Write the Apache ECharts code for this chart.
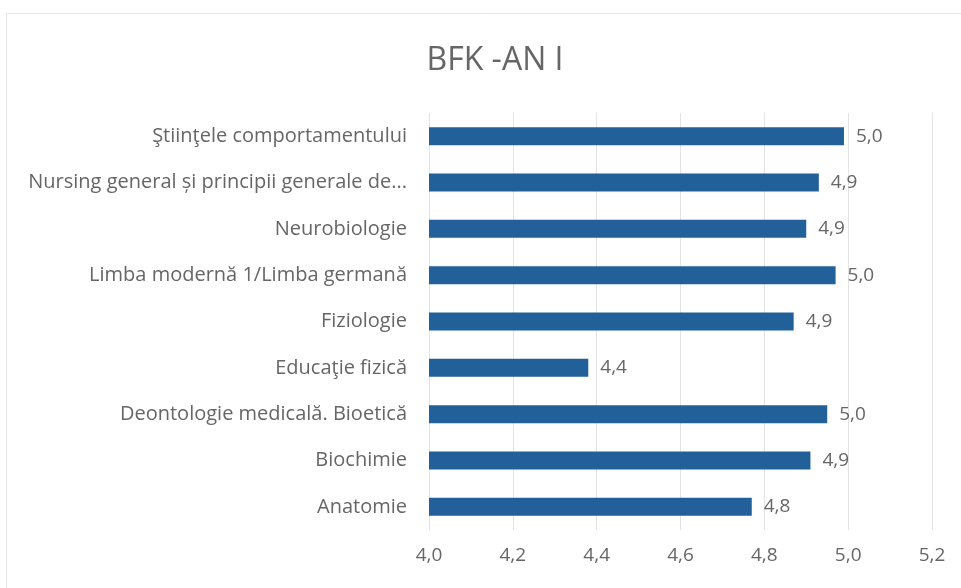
<!DOCTYPE html>
<html>
<head>
<meta charset="utf-8">
<script type="text/javascript" src="https://cdn.jsdelivr.net/npm/echarts@6/dist/echarts.min.js"></script>
<style>
  html, body { margin: 0; padding: 0; background: #fff; }
  #bfk { width: 961px; height: 588px; }
</style>
</head>
<body>
<div id="bfk"></div>
<script>
    // date (de jos in sus, ca in Excel)
    var categorii = [
        'Anatomie',
        'Biochimie',
        'Deontologie medicală. Bioetică',
        'Educaţie fizică',
        'Fiziologie',
        'Limba modernă 1/Limba germană',
        'Neurobiologie',
        'Nursing general și principii generale de...',
        'Ştiinţele comportamentului'
    ];
    var valori = [4.77, 4.91, 4.95, 4.38, 4.87, 4.97, 4.90, 4.93, 4.99];
    var axaMin = 4.0;
    var axaMax = 5.2;
    var pas = 0.2;

    var gri = '#666666';
    var font = 'Open Sans';

    function virgula(v) {
        return v.toFixed(1).replace('.', ',');
    }

    var myChart = echarts.init(document.getElementById('bfk'));
    var option = {
        backgroundColor: '#fff',
        animation: false,
        title: {
            text: 'BFK -AN I',
            left: 490,
            top: 40,
            textAlign: 'center',
            textStyle: {
                color: gri,
                fontFamily: font,
                fontWeight: 'normal',
                fontSize: 32
            }
        },
        graphic: [{
            type: 'rect',
            shape: { x: 6.5, y: 13.5, width: 970, height: 600 },
            style: { fill: 'none', stroke: '#e4e4e4', lineWidth: 1 },
            silent: true
        }],
        grid: {
            left: 429,
            right: 29,
            top: 113,
            bottom: 58,
            containLabel: false
        },
        xAxis: {
            type: 'value',
            min: axaMin,
            max: axaMax,
            interval: pas,
            axisLine: { show: false },
            axisTick: { show: false },
            splitLine: { lineStyle: { color: '#e3e3e3', width: 1 } },
            axisLabel: {
                color: gri,
                fontFamily: font,
                fontSize: 19,
                margin: 16,
                formatter: function (v) { return virgula(v); }
            }
        },
        yAxis: {
            type: 'category',
            data: categorii,
            axisLine: { show: false },
            axisTick: { show: false },
            axisLabel: {
                color: gri,
                fontFamily: font,
                fontSize: 20,
                margin: 22
            }
        },
        series: [{
            type: 'bar',
            data: valori,
            barWidth: 18,
            itemStyle: { color: '#22609a' },
            label: {
                show: true,
                position: 'right',
                distance: 12,
                color: gri,
                fontFamily: font,
                fontSize: 19,
                formatter: function (p) { return virgula(p.value); }
            }
        }]
    };
    myChart.setOption(option);
</script>
</body>
</html>
